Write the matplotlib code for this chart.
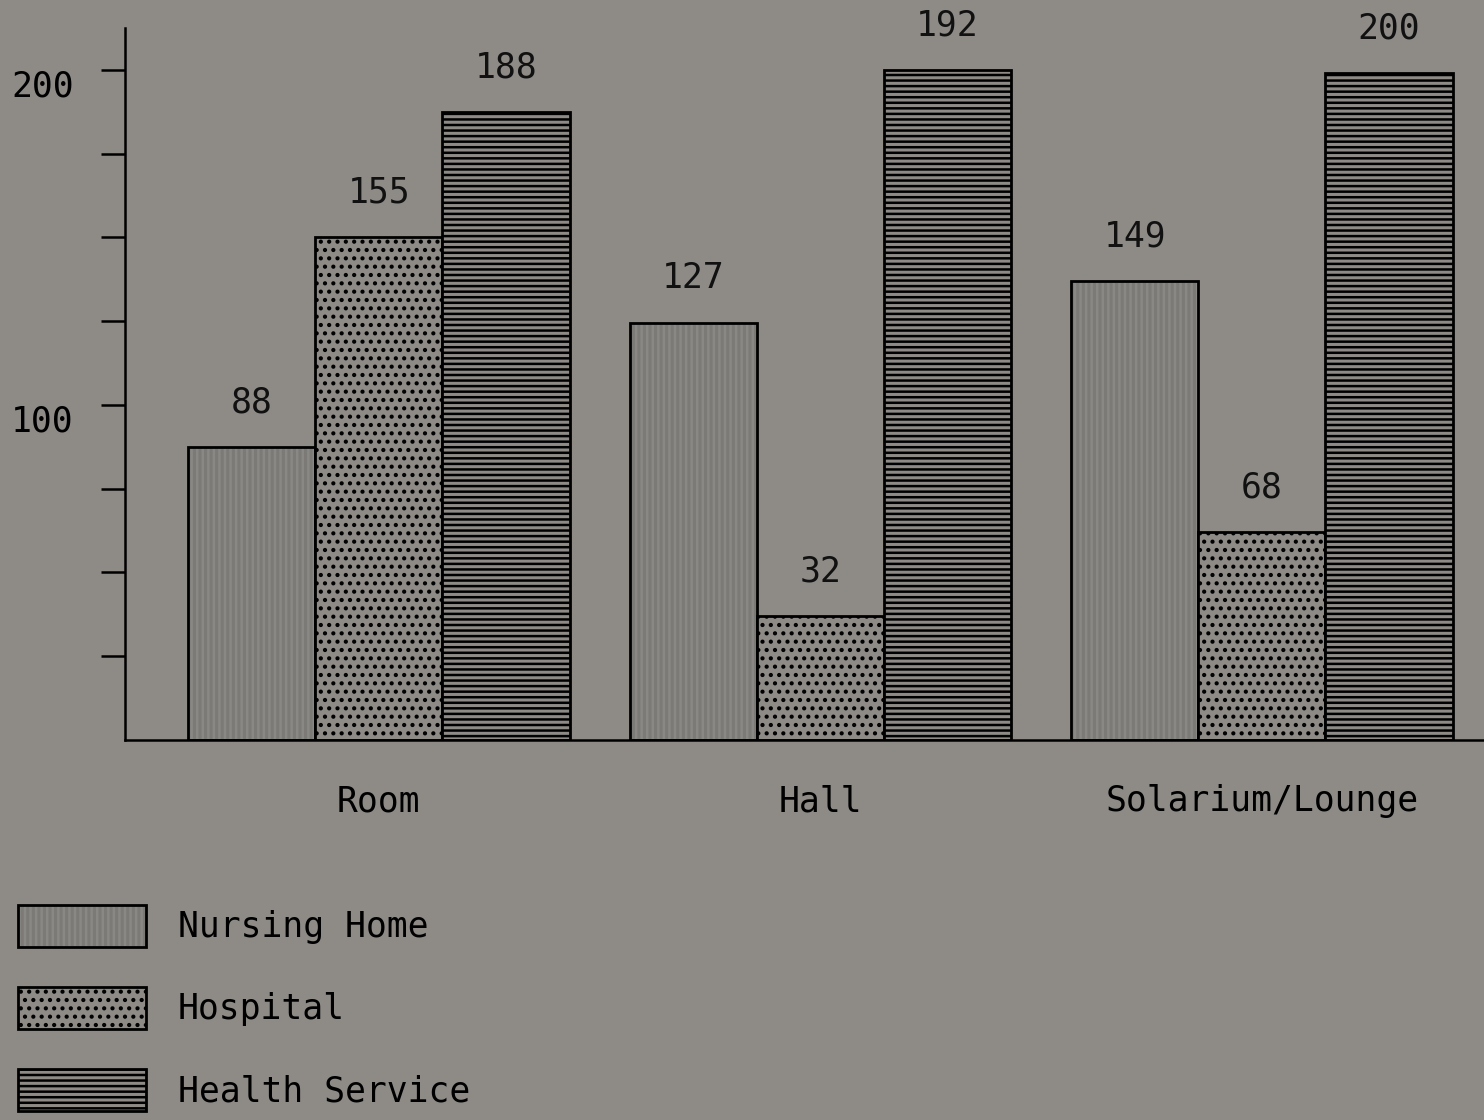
import matplotlib
matplotlib.use("Agg")
import matplotlib.pyplot as plt
import numpy as np
from matplotlib.legend_handler import HandlerTuple

# Data
categories = ["Room", "Hall", "Solarium/Lounge"]
series = ["Nursing Home", "Hospital", "Health Service"]
# printed values above the bars
value_labels = [
    [88, 155, 188],   # Room
    [127, 32, 192],   # Hall
    [149, 68, 200],   # Solarium/Lounge
]
# heights of the bars as drawn (the original drawing is not exactly to scale)
bar_heights = [
    [87.5, 150, 187.5],
    [124.5, 37, 200],
    [137, 62, 199],
]
yticks = [25, 50, 75, 100, 125, 150, 175, 200]
ytick_labels = ["", "", "", "100", "", "", "", "200"]

bg = "#8e8b87"
faces = ["#7c7a77", bg, bg]
hatch_colors = ["#8a8885", "black", "black"]
hatches = ["|||", "..", "---"]

plt.rcParams["font.family"] = ["DejaVu Sans Mono"]
plt.rcParams["hatch.linewidth"] = 1.8

fig = plt.figure(figsize=(14.84, 11.2), dpi=100, facecolor=bg)
ax = fig.add_axes([125 / 1484, 1 - 740 / 1120, 1 - 125 / 1484, (740 - 28) / 1120])
ax.set_facecolor(bg)

x = np.arange(len(categories))
width = 0.288
heights = np.array(bar_heights)
labels = np.array(value_labels)

handles = []
for i, name in enumerate(series):
    xs = x + (i - 1) * width
    b1 = ax.bar(xs, heights[:, i], width, color=faces[i], edgecolor=hatch_colors[i],
                hatch=hatches[i], linewidth=0)
    b2 = ax.bar(xs, heights[:, i], width, fill=False, edgecolor="black", linewidth=2)
    handles.append((b1, b2))
    for xx, h, v in zip(xs, heights[:, i], labels[:, i]):
        ax.annotate(str(v), (xx, h), xytext=(0, 32), textcoords="offset points",
                    ha="center", va="center", fontsize=25, color="#111111")

ax.set_xlim(-0.575, 2.503)
ax.set_ylim(0, 212.5)

ax.spines["top"].set_visible(False)
ax.spines["right"].set_visible(False)
ax.spines["left"].set_linewidth(1.8)
ax.spines["bottom"].set_linewidth(1.8)

ax.set_yticks(yticks, ytick_labels, fontsize=25, va="top")
ax.tick_params(axis="y", direction="out", length=17, width=1.8, pad=20)
ax.set_xticks(x, categories, fontsize=25)
ax.tick_params(axis="x", length=0, pad=32)

fig.legend([(h[0], h[1]) for h in handles], series,
           handler_map={tuple: HandlerTuple(ndivide=1, pad=0)},
           loc="upper left", bbox_to_anchor=(18 / 1484, 1 - 905 / 1120),
           frameon=False, fontsize=25, handlelength=3.7, handleheight=1.48,
           labelspacing=1.15, handletextpad=0.9, borderpad=0, borderaxespad=0)

fig.savefig("out.png", dpi=100, facecolor=bg)
